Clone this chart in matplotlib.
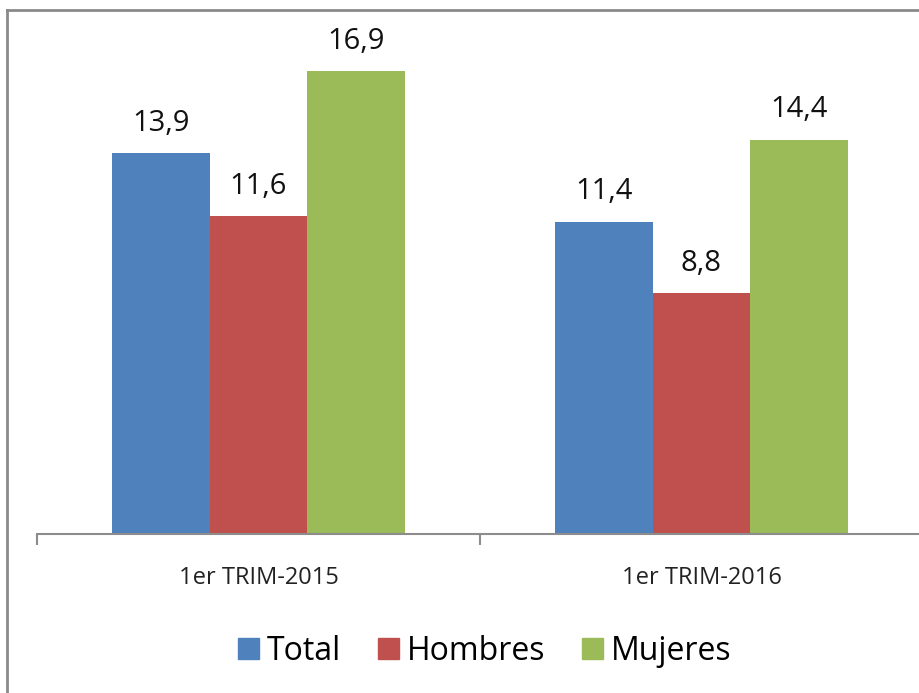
import matplotlib
matplotlib.use("Agg")
import matplotlib.pyplot as plt
import numpy as np
from matplotlib.lines import Line2D
from matplotlib.patches import Patch

categories = ["1er TRIM-2015", "1er TRIM-2016"]
series = ["Total", "Hombres", "Mujeres"]
total = [13.9, 11.4]
hombres = [11.6, 8.8]
mujeres = [16.9, 14.4]
colors = ["#4F81BD", "#C0504D", "#9BBB59"]

plt.rcParams["font.family"] = ["Open Sans", "DejaVu Sans"]

W, H = 920, 693
fig = plt.figure(figsize=(W / 100, H / 100), dpi=100)

# plot area in pixels: left 37, bottom axis at y=534, top at y=41, right beyond the image
left, right, top, bottom = 37, 923, 41, 534
ax = fig.add_axes([left / W, 1 - bottom / H, (right - left) / W, (bottom - top) / H])

x = np.arange(len(categories))
width = 0.221
for i, (name, vals) in enumerate(zip(series, [total, hombres, mujeres])):
    bars = ax.bar(x + (i - 1) * width, vals, width, color=colors[i], label=name)
    for b, v in zip(bars, vals):
        ax.annotate(f"{v:.1f}".replace(".", ","),
                    (b.get_x() + b.get_width() / 2, v),
                    xytext=(0, 21.5), textcoords="offset points",
                    ha="center", va="center", fontsize=21, color="#111111")

ax.set_xlim(-0.5, 1.5)
ax.set_ylim(0, 18)
for s in ["top", "left", "right"]:
    ax.spines[s].set_visible(False)
ax.spines["bottom"].set_color("#8c8c8c")
ax.spines["bottom"].set_linewidth(1.5)
ax.set_yticks([])
ax.set_xticks([-0.5, 0.5, 1.5])
ax.set_xticklabels([])
ax.tick_params(axis="x", which="major", length=8, width=1.5, color="#8c8c8c")
ax.set_xticks(x, minor=True)
ax.set_xticklabels(categories, minor=True)
ax.tick_params(axis="x", which="minor", length=0, pad=23, labelsize=17, labelcolor="#222222")

handles = [Patch(color=c, label=n) for c, n in zip(colors, series)]
fig.legend(handles=handles, loc="center", bbox_to_anchor=(485 / W, 1 - 651 / H),
           ncol=3, frameon=False, fontsize=23, handlelength=0.65, handleheight=0.65,
           handletextpad=0.25, columnspacing=1.15)

# chart border (left and top edges visible)
fig.add_artist(Line2D([7 / W, 7 / W], [0, 1 - 10 / H], color="#8a8a8a", lw=2))
fig.add_artist(Line2D([7 / W, 1], [1 - 10 / H, 1 - 10 / H], color="#8a8a8a", lw=2))

fig.savefig("out.png", dpi=100)
